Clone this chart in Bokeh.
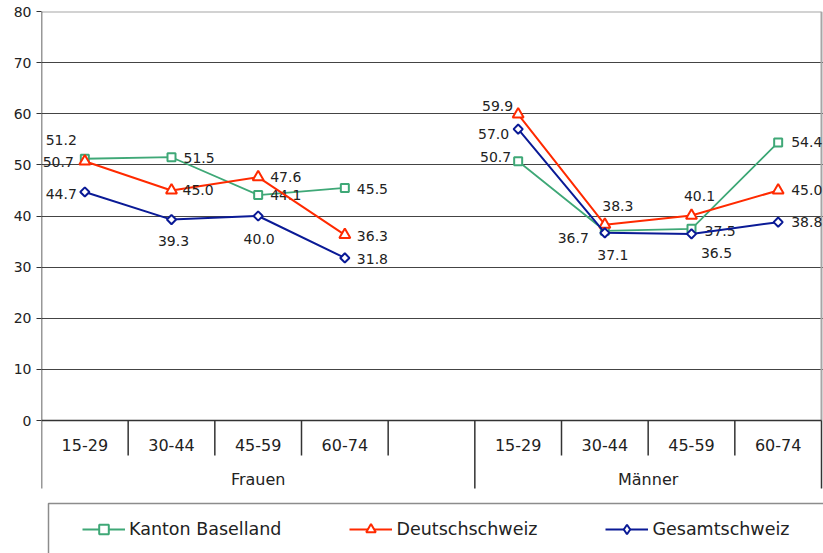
from bokeh.plotting import figure
from bokeh.models import ColumnDataSource, Range1d, FixedTicker, Legend, LegendItem
from bokeh.core.properties import value
from bokeh.embed import file_html
from bokeh.resources import INLINE
import math

# ---------------- data ----------------
categories = ["15-29", "30-44", "45-59", "60-74", "", "15-29", "30-44", "45-59", "60-74"]
groups = ["Frauen", "Männer"]
group_sizes = [5, 4]

series_names = ["Kanton Baselland", "Deutschschweiz", "Gesamtschweiz"]
baselland = [51.2, 51.5, 44.1, 45.5, None, 50.7, 37.1, 37.5, 54.4]
deutschschweiz = [50.7, 45.0, 47.6, 36.3, None, 59.9, 38.3, 40.1, 45.0]
gesamtschweiz = [44.7, 39.3, 40.0, 31.8, None, 57.0, 36.7, 36.5, 38.8]
y_ticks = [0, 10, 20, 30, 40, 50, 60, 70, 80]

# ---------------- style ----------------
FONT = "DejaVu Sans"
colors = ["#3FA877", "#FF2A00", "#0A1A96"]
markers = ["square", "triangle", "square"]
legend_markers = ["square", "triangle", "diamond"]
marker_sizes = [8, 11, 6.5]
marker_angles = [0, 0, math.pi / 4]
line_widths = [1.8, 2, 2]

# data-label placement (dx, dy in px, alignment) per point
label_pos = [
    [(-8, -19, "right"), (12, 1, "left"), (12, 0, "left"), (12, 1, "left"), None,
     (-7, -4, "right"), (8, 24, "center"), (13, 2, "left"), (13, 0, "left")],
    [(-11, 1, "right"), (11, 0, "left"), (12, 0, "left"), (12, 1, "left"), None,
     (-5, -8, "right"), (13, -19, "center"), (8, -19, "center"), (13, 0, "left")],
    [(-8, 2, "right"), (2, 21, "center"), (1, 23, "center"), (12, 1, "left"), None,
     (-9, 5, "right"), (-16, 5, "right"), (25, 19, "center"), (13, 0, "left")],
]

# ---------------- layout ----------------
W, H = 823, 553
frame_left, frame_top = 41, 11
frame_right, frame_bottom = W, H
plot_right = 821
zero_px = 420
n = len(categories)
slot = (plot_right - frame_left) / n
unit = (zero_px - frame_top) / max(y_ticks)


def below(px):
    return -px / unit


x_end = (frame_right - frame_left) / slot
y_start = below(frame_bottom - zero_px)

p = figure(width=W, height=H, output_backend="svg", toolbar_location=None,
           x_range=Range1d(0, x_end), y_range=Range1d(y_start, max(y_ticks)),
           min_border_left=frame_left, min_border_top=frame_top,
           min_border_right=0, min_border_bottom=0, x_axis_type=None)
p.outline_line_color = None
p.background_fill_color = "white"
p.border_fill_color = "white"
p.xgrid.visible = False

# y axis
ya = p.yaxis[0]
ya.ticker = FixedTicker(ticks=y_ticks)
ya.axis_line_color = None
ya.major_tick_line_color = "#333333"
ya.major_tick_out = 5
ya.major_tick_in = 0
ya.minor_tick_line_color = None
ya.major_label_standoff = 5
ya.major_label_text_font = FONT
ya.major_label_text_font_size = "14px"
ya.major_label_text_color = "#222222"

p.ygrid.ticker = FixedTicker(ticks=y_ticks[1:-1])
p.ygrid.grid_line_color = "#444444"
p.ygrid.grid_line_width = 1.2

xs = [i + 0.5 for i in range(n)]
x_last = n

# top border + right border (light gray)
p.segment(x0=[0, x_last], y0=[max(y_ticks), max(y_ticks)], x1=[x_last, x_last], y1=[max(y_ticks), 0],
          line_color="#A6A6A6", line_width=2)
# x axis line
p.segment(x0=[0], y0=[0], x1=[x_last], y1=[0], line_color="#333333", line_width=1.5)

# category separators
group_bounds = [0]
for s in group_sizes:
    group_bounds.append(group_bounds[-1] + s)
inner = [b for b in range(n + 1) if b not in group_bounds]
p.segment(x0=inner, y0=[0] * len(inner), x1=inner, y1=[below(35)] * len(inner),
          line_color="#333333", line_width=1.5)
p.segment(x0=group_bounds, y0=[0] * len(group_bounds), x1=group_bounds,
          y1=[below(68)] * len(group_bounds), line_color="#333333", line_width=1.5)
# y axis line
p.segment(x0=[0], y0=[max(y_ticks)], x1=[0], y1=[0], line_color="#333333", line_width=1.5)

# category labels
p.text(x=xs, y=[below(24)] * n, text=categories, text_align="center", text_baseline="middle",
       text_font=value(FONT), text_font_size="16px", text_color="#222222")
gx = [(group_bounds[i] + group_bounds[i + 1]) / 2 for i in range(len(groups))]
p.text(x=gx, y=[below(59)] * len(groups), text=groups, text_align="center", text_baseline="middle",
       text_font=value(FONT), text_font_size="16px", text_color="#222222")

# legend box
legend_left = (48 - frame_left) / slot
p.quad(left=[legend_left], right=[x_end + 1], top=[below(503 - zero_px)], bottom=[y_start - 5],
       fill_color=None, line_color="#8C8C8C", line_width=1.5)

# series
items = []
for k, vals in enumerate([baselland, deutschschweiz, gesamtschweiz]):
    yv = [float("nan") if v is None else v for v in vals]
    src = ColumnDataSource(dict(x=xs, y=yv))
    lr = p.line("x", "y", source=src, line_color=colors[k], line_width=line_widths[k])
    sx = [x for x, v in zip(xs, vals) if v is not None]
    sy = [v for v in vals if v is not None]
    sr = p.scatter(sx, sy, marker=markers[k], size=marker_sizes[k], angle=marker_angles[k],
                   fill_color="white", line_color=colors[k], line_width=2)
    # legend-only glyph (no points drawn in the plot)
    lg = p.scatter([float("nan")], [float("nan")], marker=legend_markers[k], size=10,
                   fill_color="white", line_color=colors[k], line_width=2)
    items.append(LegendItem(label=series_names[k], renderers=[lr, lg]))
    # data labels
    lx, ly, lt, dx, dy, al = [], [], [], [], [], []
    for x, v, pos in zip(xs, vals, label_pos[k]):
        if v is None:
            continue
        lx.append(x); ly.append(v); lt.append(f"{v:.1f}")
        dx.append(pos[0]); dy.append(pos[1]); al.append(pos[2])
    lsrc = ColumnDataSource(dict(x=lx, y=ly, t=lt, dx=dx, dy=dy, al=al))
    p.text(x="x", y="y", text="t", x_offset="dx", y_offset="dy", text_align="al",
           text_baseline="middle", source=lsrc, text_font=value(FONT),
           text_font_size="14px", text_color="#222222")

legend = Legend(items=items, orientation="horizontal", location=(82 - frame_left, 12),
                padding=0, margin=0, spacing=68, glyph_width=43, glyph_height=24,
                label_standoff=4, label_text_font=FONT, label_text_font_size="17.5px",
                label_text_color="#222222", border_line_alpha=0, background_fill_alpha=0)
p.add_layout(legend)

open("out.html", "w").write(file_html(p, INLINE))
